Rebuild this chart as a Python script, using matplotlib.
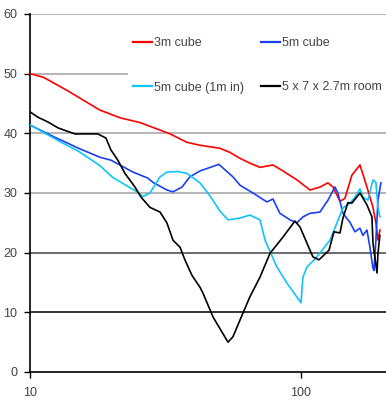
import matplotlib
matplotlib.use("Agg")
import matplotlib.pyplot as plt

plt.rcParams['font.family'] = ['Liberation Sans', 'DejaVu Sans']

# 3m cube
red_f = [10, 11.2, 13.7, 18.1, 21.5, 25.5, 32.9, 37.9, 42.4, 50.2, 54.7, 59.6, 64.8, 70.6,
         78.8, 85.8, 96.6, 108, 117.5, 125.8, 131.3, 139.3, 145.3, 154.2, 165.1, 175.2,
         179.7, 184.4, 189, 192.4, 195.6]
red_v = [50.0, 49.4, 47.2, 43.9, 42.6, 41.8, 39.9, 38.5, 38.0, 37.5, 36.8, 35.8, 35.0, 34.3,
         34.7, 33.7, 32.2, 30.5, 31.0, 31.7, 31.0, 28.6, 29.1, 33.0, 34.7, 31.0,
         29.3, 27.6, 25.0, 22.1, 23.8]

# 5m cube
blue_f = [10, 11.65, 12.4, 13.7, 15.1, 18.1, 19.9, 24.0, 27.2, 28.4, 32.0, 33.7, 36.4, 38.9,
          42.4, 49.8, 56.1, 59.6, 66.5, 74.9, 78.8, 83.6, 91.1, 96.6, 101.7, 108, 117.5,
          125.8, 133.5, 136.9, 142.9, 151.6, 158.2, 165.1, 169.3, 175.2, 179.7, 184.4, 186,
          189, 192.4, 197.3]
blue_v = [41.4, 39.9, 39.3, 38.4, 37.5, 36.0, 35.5, 33.5, 32.5, 31.8, 30.5, 30.2, 31.0, 32.7,
          33.7, 34.8, 32.7, 31.3, 30.0, 28.5, 29.0, 26.6, 25.5, 25.0, 26.0, 26.6, 26.8,
          28.8, 31.0, 30.0, 26.6, 25.1, 23.5, 24.1, 22.9, 23.8, 20.9, 17.4, 17.0,
          22.0, 28.8, 31.7]

# 5m cube (1m in)
cyan_f = [10, 11.9, 12.9, 15.1, 18.1, 20.2, 22.8, 24.8, 26.1, 27.7, 30.2, 32.0, 35.0, 37.9,
          42.4, 46.2, 50.2, 53.8, 59.6, 64.8, 70.6, 73.7, 81.5, 88.8, 100, 101.7, 105.2,
          113.6, 128, 135.8, 142.9, 151.6, 158.2, 165.1, 169.3, 176.7, 184.4, 189, 192.4, 195.6]
cyan_v = [41.4, 39.5, 38.6, 37.0, 34.6, 32.6, 31.2, 30.2, 29.4, 30.0, 32.7, 33.5, 33.6, 33.3,
          31.7, 29.5, 27.0, 25.5, 25.8, 26.3, 25.5, 22.1, 17.6, 14.9, 11.6, 15.9, 17.6,
          19.1, 22.1, 25.0, 27.5, 28.3, 29.3, 30.7, 29.3, 28.8, 32.2, 31.8, 27.6, 26.0]

# 5 x 7 x 2.7m room
black_f = [10, 10.7, 11.65, 12.7, 14.66, 17.8, 19.07, 19.9, 21.1, 22.4, 24.4, 25.7, 27.7, 30.2,
           32.0, 33.7, 35.8, 37.3, 39.6, 42.4, 43.5, 47.4, 51.1, 53.8, 56.1, 60.6, 64.8, 70.6,
           76.9, 85.8, 95.0, 99.2, 108, 110.7, 116.5, 126.9, 132.4, 139.3, 142.9, 149.1,
           154.2, 165.1, 175.2, 182.8, 184.4, 190.8, 192.4, 195.6]
black_v = [43.6, 42.7, 41.9, 40.9, 39.9, 39.9, 39.2, 37.2, 35.5, 33.3, 31.0, 29.3, 27.6, 26.8,
           25.0, 22.1, 20.9, 18.8, 16.2, 14.2, 13.2, 9.2, 6.7, 5.0, 5.9, 9.5, 12.6, 15.9,
           19.9, 22.6, 25.3, 24.3, 20.4, 19.3, 18.8, 20.4, 23.5, 23.3, 25.8, 28.4,
           28.3, 30.0, 28.0, 26.0, 21.6, 16.6, 19.9, 22.9]

labels = ['3m cube', '5m cube', '5m cube (1m in)', '5 x 7 x 2.7m room']
colors = ['#ff0000', '#1a40f0', '#10c4f8', '#000000']

grid_y = [10, 20, 30, 40, 50, 60]
grid_c = ['#000000', '#444444', '#a0a0a0', '#a0a0a0', '#a0a0a0', '#a0a0a0']

fig = plt.figure(figsize=(3.86, 4.0), dpi=100)
ax = fig.add_axes([30 / 386, 28 / 400, 356 / 386, 358 / 400])

for y, c in zip(grid_y, grid_c):
    ax.axhline(y, color=c, lw=1.1, zorder=1)

series = [(red_f, red_v), (blue_f, blue_v), (cyan_f, cyan_v), (black_f, black_v)]
for (f, v), lab, c in zip(series, labels, colors):
    ax.plot(f, v, color=c, lw=1.2, label=lab, zorder=3)

ax.set_xscale('log')
ax.set_xlim(10, 206)
ax.set_ylim(0, 60)
ax.set_xticks([10, 100])
ax.set_xticklabels(['10', '100'])
ax.minorticks_off()
ax.set_yticks(grid_y[::-1] + [0])
ax.tick_params(axis='both', direction='out', length=4, width=1, colors='#000000',
               labelcolor='#444444', labelsize=9)
ax.tick_params(axis='y', pad=5)
ax.tick_params(axis='x', pad=7)
for s in ['top', 'right']:
    ax.spines[s].set_visible(False)
for s in ['left', 'bottom']:
    ax.spines[s].set_linewidth(1.2)

# legend order: row1 = 3m, 5m ; row2 = 1m in, room
h, l = ax.get_legend_handles_labels()
order = [0, 2, 1, 3]
leg = fig.legend([h[i] for i in order], [l[i] for i in order], ncol=2,
                 loc='upper left', bbox_to_anchor=(128 / 386, 1 - 32 / 400),
                 frameon=True, fancybox=False, facecolor='white', edgecolor='white',
                 framealpha=1, fontsize=9, labelspacing=2.6, columnspacing=1.4,
                 handlelength=1.5, handletextpad=0.15, borderaxespad=0, borderpad=0.4)
leg.get_frame().set_linewidth(0)
for t in leg.get_texts():
    t.set_color('#444444')
for line in leg.get_lines():
    line.set_linewidth(1.6)

fig.savefig('out.png', dpi=100)
